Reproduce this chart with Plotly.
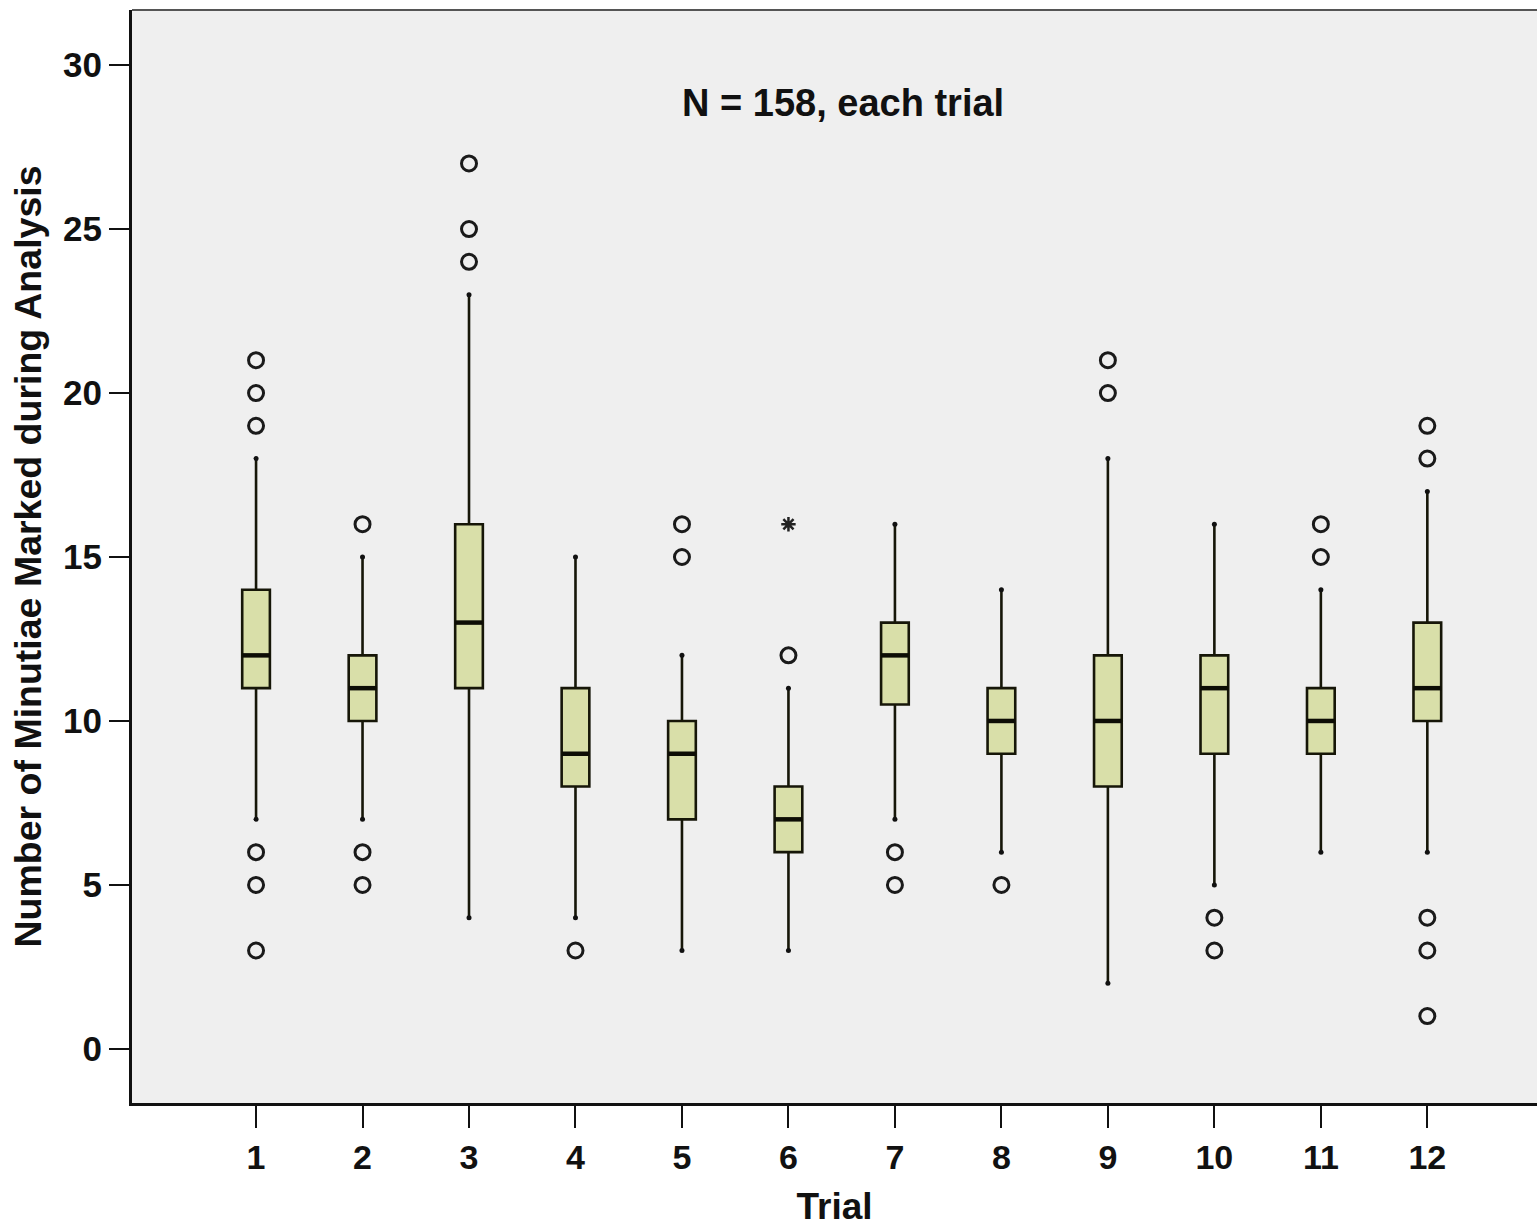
import plotly.graph_objects as go

# Minutiae marked during analysis, one box per trial
trials = [1, 2, 3, 4, 5, 6, 7, 8, 9, 10, 11, 12]
q1 = [11, 10, 11, 8, 7, 6, 10.5, 9, 8, 9, 9, 10]
medians = [12, 11, 13, 9, 9, 7, 12, 10, 10, 11, 10, 11]
q3 = [14, 12, 16, 11, 10, 8, 13, 11, 12, 12, 11, 13]
lower_whisker = [7, 7, 4, 4, 3, 3, 7, 6, 2, 5, 6, 6]
upper_whisker = [18, 15, 23, 15, 12, 11, 16, 14, 18, 16, 14, 17]

# Outliers (open circles) per trial
outliers = {
    1: [21, 20, 19, 6, 5, 3],
    2: [16, 6, 5],
    3: [27, 25, 24],
    4: [3],
    5: [16, 15],
    6: [12],
    7: [6, 5],
    8: [5],
    9: [21, 20],
    10: [4, 3],
    11: [16, 15],
    12: [19, 18, 4, 3, 1],
}
# Extreme values (asterisks)
extremes = {6: [16]}

title_text = "N = 158, each trial"
x_label = "Trial"
y_label = "Number of Minutiae Marked during Analysis"

FONT = "Liberation Sans, Arial, sans-serif"
BOX_W = 0.26

fig = go.Figure()

fig.add_trace(go.Box(
    x=trials, q1=q1, median=medians, q3=q3,
    lowerfence=lower_whisker, upperfence=upper_whisker,
    width=BOX_W, whiskerwidth=0,
    fillcolor="#d9dfa9",
    line=dict(color="#161608", width=2.6),
    boxpoints=False, showlegend=False, hoverinfo="skip",
))

# Heavier median bars
mx, my = [], []
for t, m in zip(trials, medians):
    mx += [t - BOX_W / 2, t + BOX_W / 2, None]
    my += [m, m, None]
fig.add_trace(go.Scatter(x=mx, y=my, mode="lines",
                         line=dict(color="#0d0d05", width=4.5),
                         showlegend=False, hoverinfo="skip"))

# Small dots at whisker ends
fig.add_trace(go.Scatter(
    x=trials + trials, y=lower_whisker + upper_whisker, mode="markers",
    marker=dict(symbol="circle", size=5, color="#111111"),
    showlegend=False, hoverinfo="skip"))

ox, oy = [], []
for t, vals in outliers.items():
    ox += [t] * len(vals)
    oy += vals
fig.add_trace(go.Scatter(
    x=ox, y=oy, mode="markers",
    marker=dict(symbol="circle-open", size=15, color="#1a1a1a",
                line=dict(width=3, color="#1a1a1a")),
    showlegend=False, hoverinfo="skip"))

ex, ey = [], []
for t, vals in extremes.items():
    ex += [t] * len(vals)
    ey += vals
fig.add_trace(go.Scatter(
    x=ex, y=ey, mode="markers",
    marker=dict(symbol="asterisk-open", size=12, color="#222222",
                line=dict(width=2.5, color="#222222")),
    showlegend=False, hoverinfo="skip"))

fig.add_annotation(
    x=0.506, y=0.915, xref="paper", yref="paper",
    xanchor="center", yanchor="middle",
    text=title_text, showarrow=False,
    font=dict(family=FONT, size=38, color="#111111", weight="bold"),
)

# Thin frame line across the top of the plot area
fig.add_shape(type="line", xref="paper", yref="paper",
              x0=0, x1=1, y0=1, y1=1,
              line=dict(color="#555555", width=2))

fig.update_layout(
    width=1537, height=1227,
    margin=dict(l=132, r=0, t=10, b=124),
    paper_bgcolor="white",
    plot_bgcolor="#efefef",
    font=dict(family=FONT, color="#111111"),
    showlegend=False,
)

fig.update_xaxes(
    range=[-0.165, 13.03],
    tickmode="array", tickvals=trials, ticktext=[str(t) for t in trials],
    ticks="outside", ticklen=22, tickwidth=2, tickcolor="#111111",
    showline=True, linewidth=3, linecolor="#111111",
    showgrid=False, zeroline=False,
    tickfont=dict(family=FONT, size=34, color="#111111", weight="bold"),
    title=dict(text=x_label, standoff=22,
               font=dict(family=FONT, size=37, color="#111111", weight="bold")),
)
fig.update_yaxes(
    range=[-1.65, 31.68],
    tickmode="array", tickvals=[0, 5, 10, 15, 20, 25, 30],
    ticks="outside", ticklen=20, tickwidth=2, tickcolor="#111111",
    showline=True, linewidth=3, linecolor="#111111",
    showgrid=False, zeroline=False,
    tickfont=dict(family=FONT, size=35, color="#111111", weight="bold"),
    title=dict(text=y_label, standoff=10,
               font=dict(family=FONT, size=37.5, color="#111111", weight="bold")),
)

fig.write_html("out.html")
